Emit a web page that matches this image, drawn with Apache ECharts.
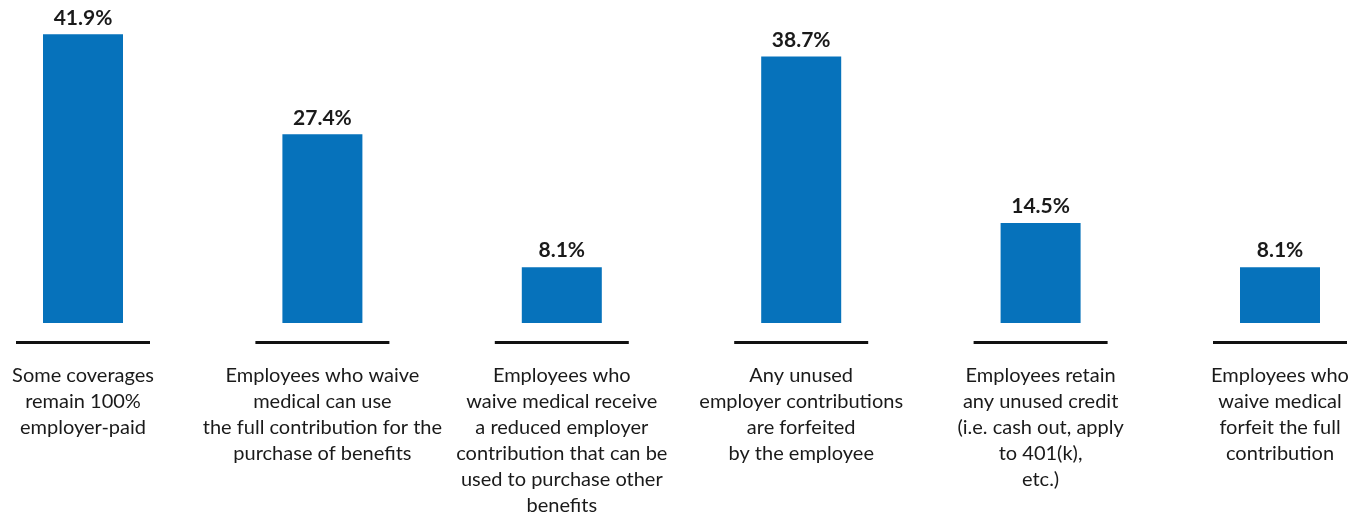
<!DOCTYPE html>
<html>
<head>
<meta charset="utf-8">
<script src="https://cdn.jsdelivr.net/npm/echarts@6/dist/echarts.min.js"></script>
<style>
  html, body { margin: 0; padding: 0; background: #ffffff; }
  #chart { width: 1368px; height: 512px; }
</style>
</head>
<body>
<div id="chart"></div>
<script>
// Plan design approaches for employees who waive medical coverage (% of employers)
const categories = [
  'Some coverages\nremain 100%\nemployer-paid',
  'Employees who waive\nmedical can use\nthe full contribution for the\npurchase of benefits',
  'Employees who\nwaive medical receive\na reduced employer\ncontribution that can be\nused to purchase other\nbenefits',
  'Any unused\nemployer contributions\nare forfeited\nby the employee',
  'Employees retain\nany unused credit\n(i.e. cash out, apply\nto 401(k),\netc.)',
  'Employees who\nwaive medical\nforfeit the full\ncontribution'
];
const shares = [41.9, 27.4, 8.1, 38.7, 14.5, 8.1];

const BAR_BLUE = '#0672BB';
const TEXT_DARK = '#1a1a1a';
const FONT = 'Lato, "Open Sans", sans-serif';

const chart = echarts.init(document.getElementById('chart'), null, { renderer: 'canvas' });

chart.setOption({
  animation: false,
  backgroundColor: '#ffffff',
  grid: {
    left: 83, right: 88, top: 13, bottom: 189,
    containLabel: false,
    outerBoundsMode: 'none'
  },
  xAxis: {
    type: 'category',
    data: categories,
    boundaryGap: false,
    axisLine: { show: false },
    axisTick: { show: false },
    splitLine: { show: false },
    axisLabel: {
      interval: 0,
      margin: 40,
      color: TEXT_DARK,
      fontFamily: FONT,
      fontSize: 20,
      lineHeight: 26,
      align: 'center',
      verticalAlign: 'top'
    }
  },
  yAxis: {
    type: 'value',
    min: 0,
    max: 45,
    show: false
  },
  series: [
    {
      type: 'bar',
      data: shares,
      barWidth: 80,
      itemStyle: { color: BAR_BLUE },
      label: {
        show: true,
        position: 'top',
        distance: 6,
        formatter: '{c}%',
        color: TEXT_DARK,
        fontFamily: FONT,
        fontWeight: 'bold',
        fontSize: 21
      }
    },
    {
      // short baseline rule under each bar
      type: 'custom',
      data: categories.map((_, i) => [i, 0]),
      silent: true,
      renderItem: function (params, api) {
        const p = api.coord([api.value(0), api.value(1)]);
        const half = 67;
        const y = p[1] + 19.5;
        return {
          type: 'line',
          shape: { x1: p[0] - half, y1: y, x2: p[0] + half, y2: y },
          style: { stroke: '#111111', lineWidth: 3 }
        };
      }
    }
  ]
});
</script>
</body>
</html>
